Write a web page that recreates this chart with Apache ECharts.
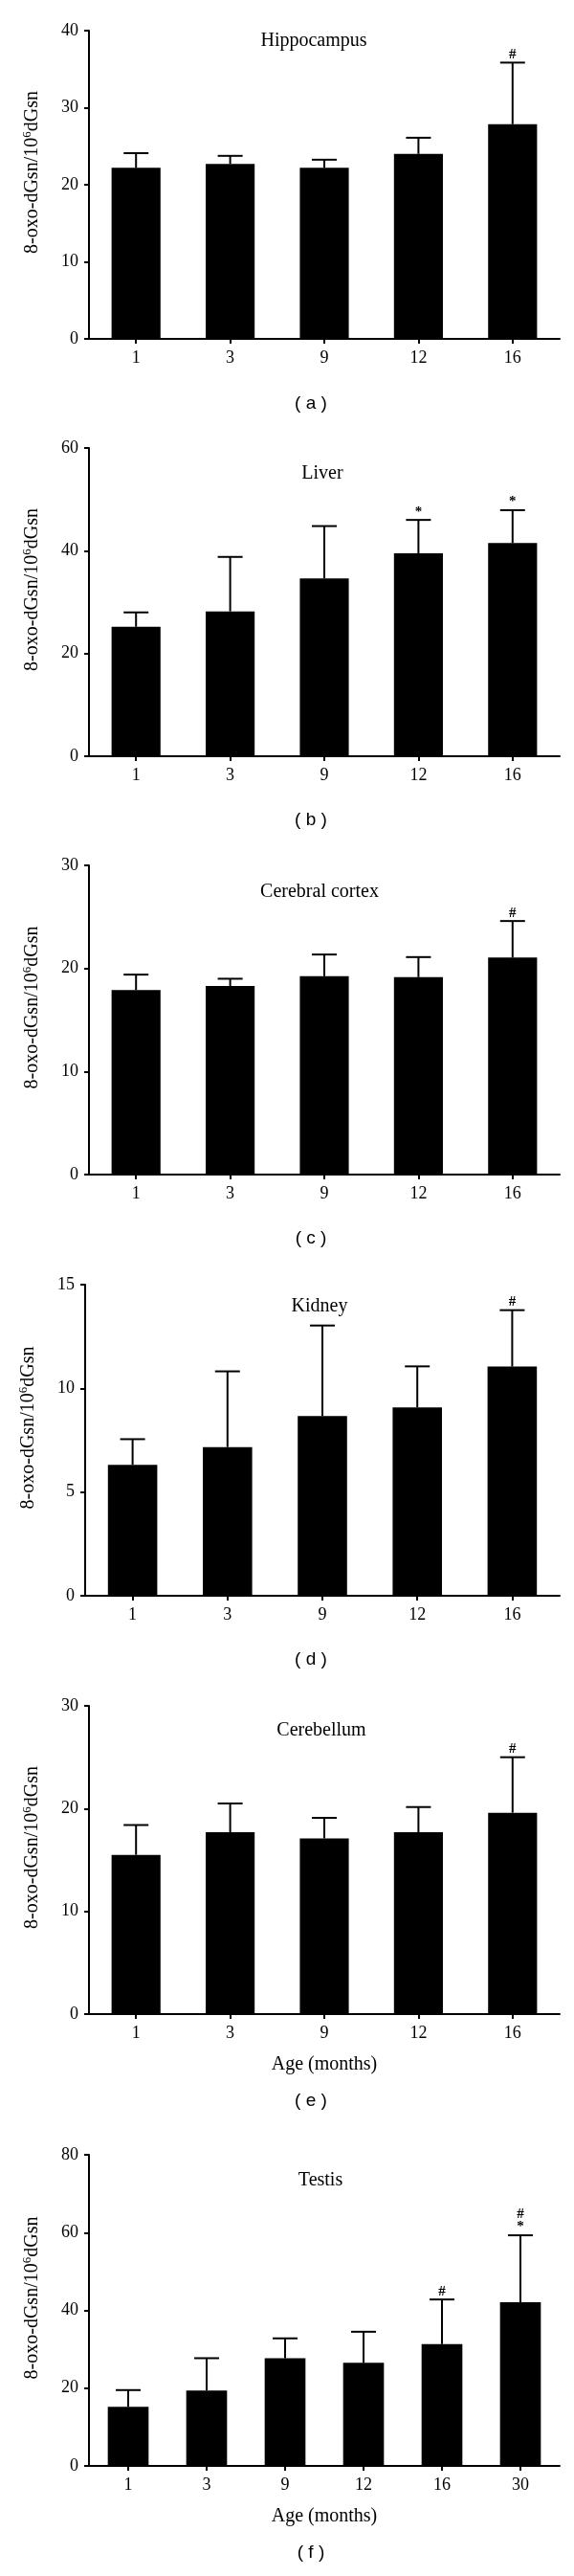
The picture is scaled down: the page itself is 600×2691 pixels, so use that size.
<!DOCTYPE html>
<html>
<head>
<meta charset="utf-8">
<script src="https://cdn.jsdelivr.net/npm/echarts@6/dist/echarts.min.js"></script>
<style>
html,body{margin:0;padding:0;background:#fff;}
#chart{width:600px;height:2691px;}
</style>
</head>
<body>
<div id="chart"></div>
<script>
// ---- data ----
const ageCats = ['1', '3', '9', '12', '16'];
const ageCatsTestis = ['1', '3', '9', '12', '16', '30'];

const hippocampusMean = [22.2, 22.7, 22.2, 24.0, 27.85];
const hippocampusErr  = [1.9, 1.05, 1.05, 2.1, 8.0];
const hippocampusMark = ['', '', '', '', '#'];

const liverMean = [25.2, 28.2, 34.6, 39.5, 41.5];
const liverErr  = [2.8, 10.6, 10.2, 6.5, 6.4];
const liverMark = ['', '', '', '*', '*'];

const cortexMean = [17.9, 18.3, 19.25, 19.15, 21.05];
const cortexErr  = [1.5, 0.7, 2.1, 1.95, 3.55];
const cortexMark = ['', '', '', '', '#'];

const kidneyMean = [6.31, 7.17, 8.66, 9.08, 11.05];
const kidneyErr  = [1.24, 3.65, 4.37, 1.98, 2.72];
const kidneyMark = ['', '', '', '', '#'];

const cerebellumMean = [15.5, 17.7, 17.1, 17.7, 19.6];
const cerebellumErr  = [2.9, 2.8, 2.0, 2.45, 5.4];
const cerebellumMark = ['', '', '', '', '#'];

const testisMean = [15.2, 19.4, 27.7, 26.5, 31.3, 42.1];
const testisErr  = [4.3, 8.3, 5.1, 8.0, 11.5, 17.2];
const testisMark = ['', '', '', '', '#', '#\n*'];

const panelTitles = ['Hippocampus', 'Liver', 'Cerebral cortex', 'Kidney', 'Cerebellum', 'Testis'];
const panelLetters = ['( a )', '( b )', '( c )', '( d )', '( e )', '( f )'];
const yMaxes = [40, 60, 30, 15, 30, 80];
const yIntervals = [10, 20, 10, 5, 10, 20];
const yAxisName = '8-oxo-dGsn/10{s|6}dGsn';
const xAxisName = 'Age (months)';

// ---- layout ----
const panels = [
  {cats: ageCats, mean: hippocampusMean, err: hippocampusErr, mark: hippocampusMark, left: 93, top: 32, height: 322, xName: false},
  {cats: ageCats, mean: liverMean, err: liverErr, mark: liverMark, left: 93, top: 468, height: 322, xName: false},
  {cats: ageCats, mean: cortexMean, err: cortexErr, mark: cortexMark, left: 93, top: 904, height: 323, xName: false},
  {cats: ageCats, mean: kidneyMean, err: kidneyErr, mark: kidneyMark, left: 89, top: 1342, height: 325, xName: false},
  {cats: ageCats, mean: cerebellumMean, err: cerebellumErr, mark: cerebellumMark, left: 93, top: 1782, height: 322, xName: true},
  {cats: ageCatsTestis, mean: testisMean, err: testisErr, mark: testisMark, left: 93, top: 2251, height: 325, xName: true}
];
const titleX = [328, 337, 334, 334, 336, 335];
const titleY = [43, 495, 932, 1365, 1808, 2278];
const letterY = [422, 857, 1294, 1734, 2195, 2667];

const SERIF = '"Liberation Serif", "DejaVu Serif", serif';
const SANS = '"Liberation Sans", Arial, sans-serif';

const chart = echarts.init(document.getElementById('chart'), null, {renderer: 'canvas'});

const grid = [], xAxis = [], yAxis = [], series = [], graphic = [];

panels.forEach(function (p, i) {
  grid.push({left: p.left, top: p.top, right: 15, height: p.height, containLabel: false});
  xAxis.push({
    type: 'category', gridIndex: i, data: p.cats,
    boundaryGap: true,
    name: p.xName ? xAxisName : '',
    nameLocation: 'middle', nameGap: 43,
    nameTextStyle: {fontFamily: SERIF, fontSize: 20, color: '#000'},
    axisLine: {show: true, lineStyle: {color: '#000', width: 2}},
    axisTick: {show: true, alignWithLabel: true, length: 5, lineStyle: {color: '#000', width: 2}},
    axisLabel: {fontFamily: SERIF, fontSize: 18, color: '#000', margin: 11},
    splitLine: {show: false}
  });
  yAxis.push({
    type: 'value', gridIndex: i, min: 0, max: yMaxes[i], interval: yIntervals[i],
    name: yAxisName,
    nameLocation: 'middle', nameGap: 47,
    nameTextStyle: {
      fontFamily: SERIF, fontSize: 20, color: '#000',
      padding: [0, 0, 0, 26],
      rich: {
        s: {fontFamily: SERIF, fontSize: 13, color: '#000', verticalAlign: 'top', lineHeight: 13}
      },
      lineHeight: 24
    },
    axisLine: {show: true, lineStyle: {color: '#000', width: 2}},
    axisTick: {show: true, length: 5, lineStyle: {color: '#000', width: 2}},
    axisLabel: {fontFamily: SERIF, fontSize: 18, color: '#000', margin: 11},
    splitLine: {show: false}
  });
  series.push({
    type: 'bar', xAxisIndex: i, yAxisIndex: i,
    data: p.mean, barWidth: '52%',
    itemStyle: {color: '#000'}, silent: true, animation: false
  });
  const errData = p.mean.map(function (m, k) { return [k, m, p.err[k]]; });
  const marks = p.mark;
  series.push({
    type: 'custom', xAxisIndex: i, yAxisIndex: i, animation: false, silent: true, z: 5,
    data: errData,
    renderItem: function (params, api) {
      const k = api.value(0), m = api.value(1), e = api.value(2);
      const p0 = api.coord([k, m]);
      const p1 = api.coord([k, m + e]);
      const cap = 13;
      const children = [
        {type: 'line', shape: {x1: p0[0], y1: p0[1], x2: p1[0], y2: p1[1]}, style: {stroke: '#000', lineWidth: 2}},
        {type: 'line', shape: {x1: p1[0] - cap, y1: p1[1], x2: p1[0] + cap, y2: p1[1]}, style: {stroke: '#000', lineWidth: 2}}
      ];
      const mk = marks[params.dataIndex];
      if (mk) {
        children.push({
          type: 'text', x: p1[0], y: p1[1] - 2,
          style: {text: mk, fill: '#000', font: 'bold 15px ' + SERIF, textAlign: 'center', textVerticalAlign: 'bottom', lineHeight: 13}
        });
      }
      return {type: 'group', children: children};
    }
  });
  graphic.push({
    type: 'text', x: titleX[i], y: titleY[i],
    style: {text: panelTitles[i], fill: '#000', font: '20px ' + SERIF, textAlign: 'center', textVerticalAlign: 'middle'}
  });
  graphic.push({
    type: 'text', x: 325, y: letterY[i],
    style: {text: panelLetters[i], fill: '#000', font: '19px ' + SANS, textAlign: 'center', textVerticalAlign: 'middle'}
  });
});

chart.setOption({
  animation: false,
  backgroundColor: '#fff',
  grid: grid, xAxis: xAxis, yAxis: yAxis, series: series, graphic: graphic
});
</script>
</body>
</html>
